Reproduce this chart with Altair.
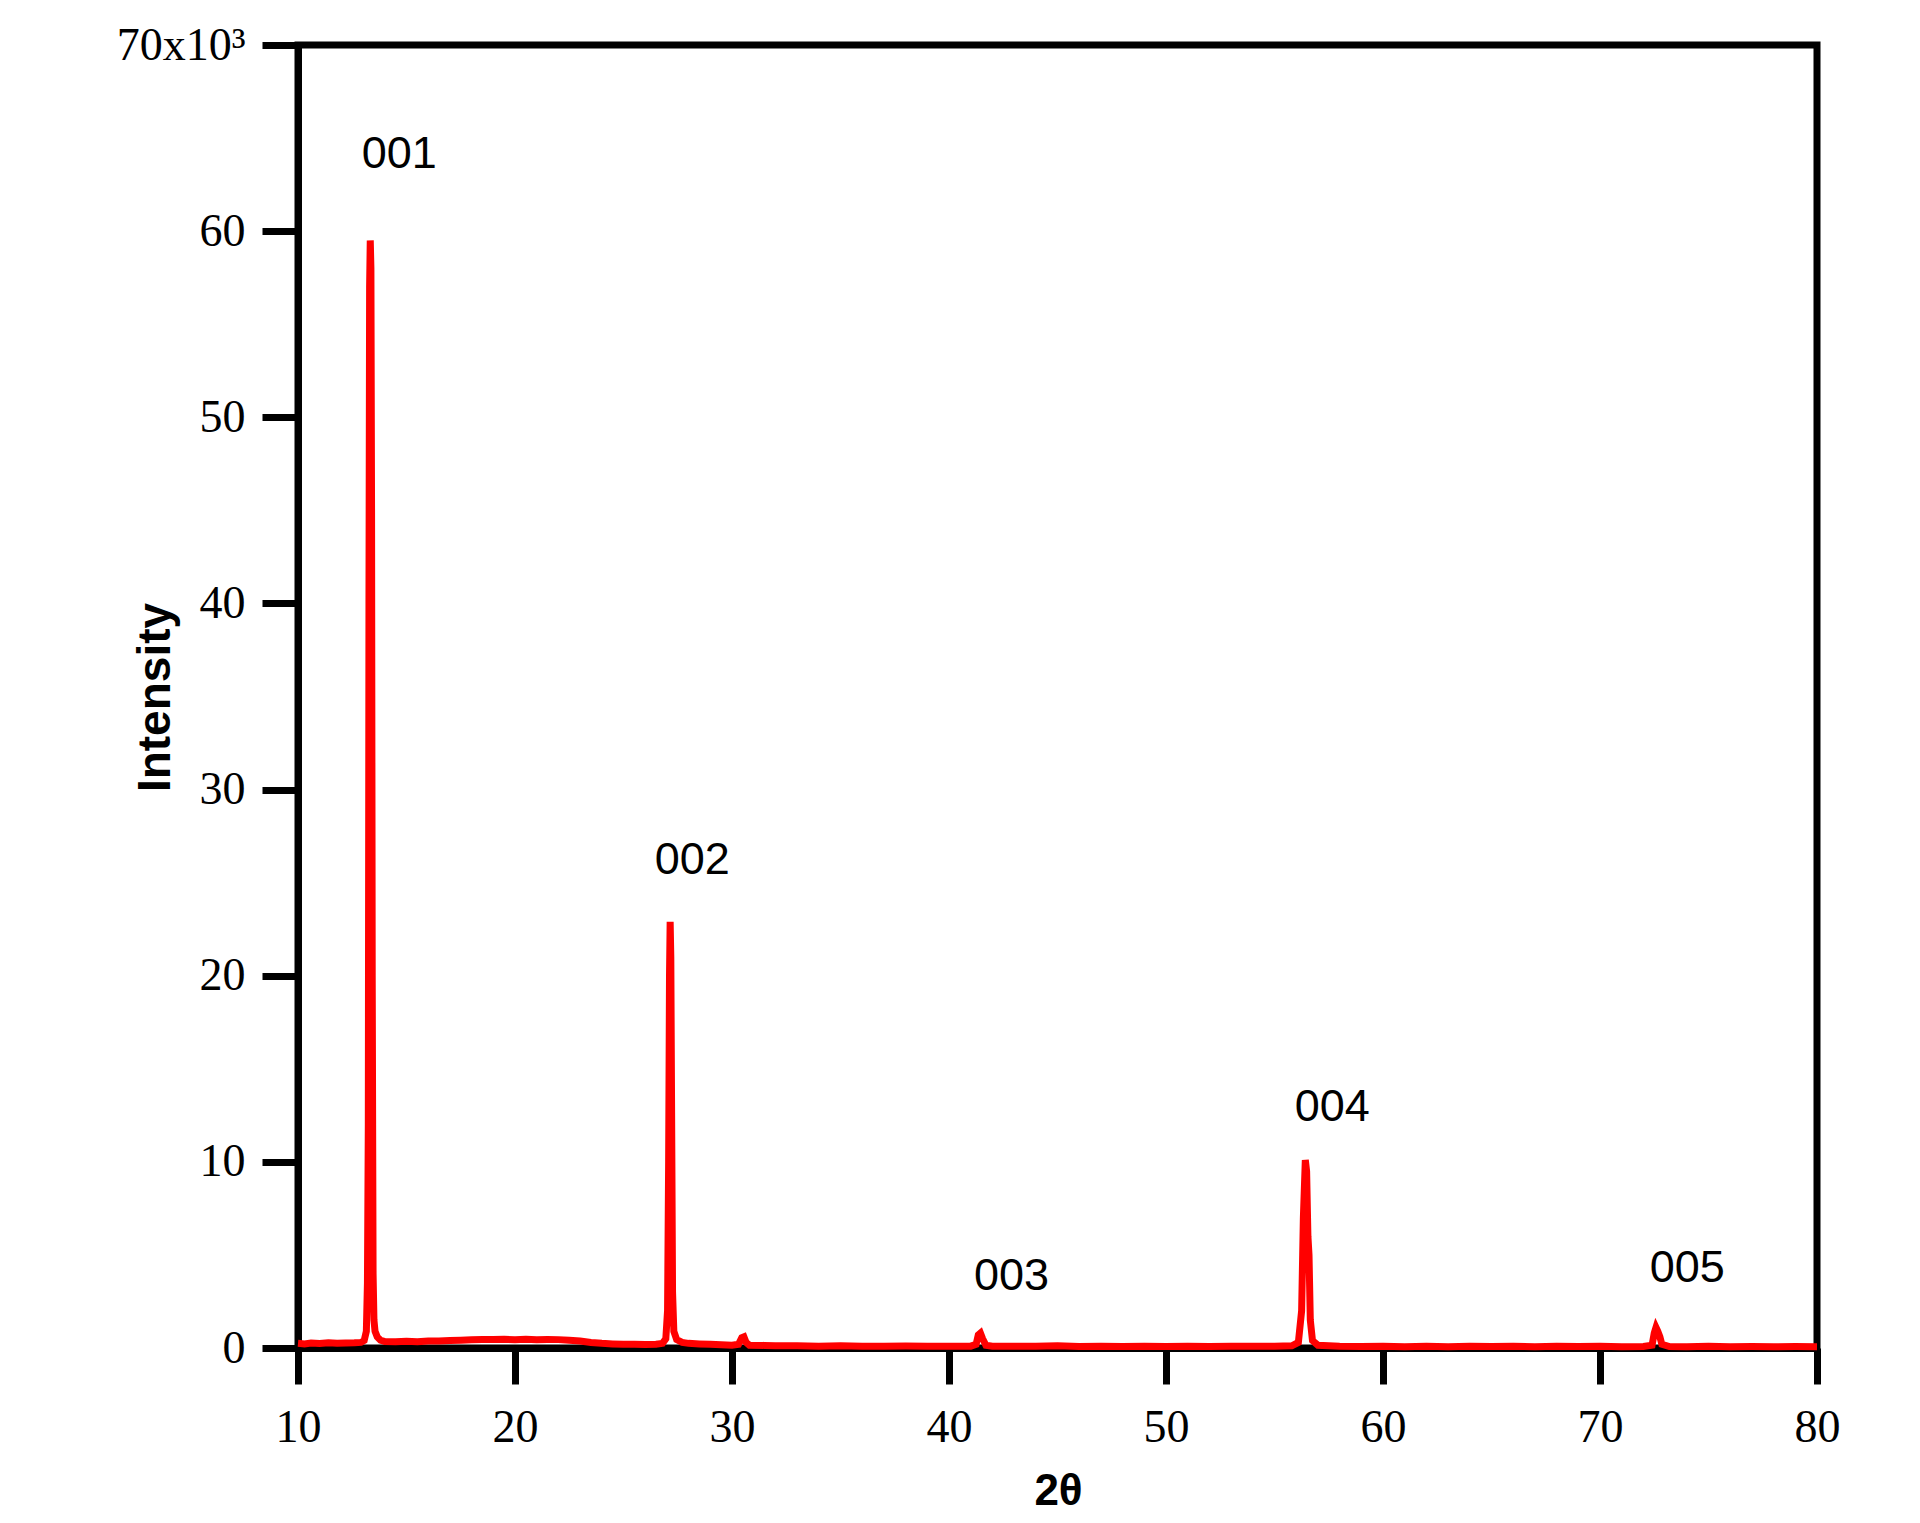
import altair as alt
import pandas as pd

# 2-theta positions (degrees)
two_theta = [10.0, 10.3, 10.6, 11.0, 11.4, 11.8, 12.2, 12.6, 12.9, 13.05, 13.15, 13.2, 13.24, 13.27, 13.3,
             13.33, 13.36, 13.39, 13.42, 13.46, 13.5, 13.55, 13.65, 13.8, 14.0, 14.5, 15.0, 15.5, 16.0, 16.5,
             17.0, 17.5, 18.0, 18.5, 19.0, 19.5, 20.0, 20.5, 21.0, 21.5, 22.0, 22.5, 23.0, 23.5, 24.0, 24.5,
             25.0, 25.5, 26.0, 26.5, 26.8, 26.95, 27.03, 27.08, 27.12, 27.15, 27.18, 27.22, 27.26, 27.32, 27.45,
             27.7, 28.0, 28.5, 29.0, 29.5, 30.0, 30.3, 30.45, 30.55, 30.65, 30.8, 31.5, 32.0, 33.0, 34.0, 35.0,
             36.0, 37.0, 38.0, 39.0, 40.0, 41.0, 41.25, 41.35, 41.45, 41.55, 41.7, 42.0, 43.0, 44.0, 45.0, 46.0,
             47.0, 48.0, 49.0, 50.0, 51.0, 52.0, 53.0, 54.0, 55.0, 55.8, 56.1, 56.25, 56.33, 56.42, 56.48, 56.54,
             56.59, 56.65, 56.75, 57.0, 58.0, 59.0, 60.0, 61.0, 62.0, 63.0, 64.0, 65.0, 66.0, 67.0, 68.0, 69.0,
             70.0, 71.0, 72.0, 72.4, 72.5, 72.58, 72.66, 72.76, 72.85, 73.2, 74.0, 75.0, 76.0, 77.0, 78.0, 79.0,
             80.0]

# intensity (counts)
intensity = [250, 220, 270, 240, 280, 250, 270, 280, 300, 400, 900, 3500, 12000, 40000, 57000,
             59500, 58000, 45000, 20000, 4000, 1500, 900, 600, 420, 350, 330, 360, 340, 380, 370,
             400, 420, 440, 450, 460, 470, 450, 470, 440, 460, 450, 420, 380, 300, 250, 220,
             200, 200, 190, 200, 250, 500, 2000, 10000, 20000, 22900, 21000, 12000, 3000, 900, 450,
             300, 250, 220, 200, 180, 150, 200, 550, 600, 300, 150, 140, 120, 120, 100, 120,
             100, 100, 110, 100, 90, 100, 200, 700, 800, 500, 150, 100, 100, 100, 120, 80,
             100, 80, 100, 80, 100, 80, 100, 90, 100, 120, 300, 2000, 7000, 10100, 9500, 6000,
             5000, 1500, 400, 150, 100, 80, 100, 70, 90, 70, 100, 80, 90, 70, 90, 80,
             90, 70, 80, 150, 800, 1100, 900, 600, 200, 80, 70, 90, 70, 80, 70, 80,
             70]

# peak annotations
peak_labels = ["001", "002", "003", "004", "005"]
peak_label_x = [14.67, 28.17, 42.88, 57.66, 74.02]
peak_label_y = [64300, 26400, 4030, 13100, 4460]

x_ticks = [10, 20, 30, 40, 50, 60, 70, 80]
y_ticks = [0, 10000, 20000, 30000, 40000, 50000, 60000, 70000]

df = pd.DataFrame({"x": two_theta, "y": intensity})
lab = pd.DataFrame({"x": peak_label_x, "y": peak_label_y, "t": peak_labels})

xscale = alt.Scale(domain=[10, 80], nice=False, zero=False)
yscale = alt.Scale(domain=[0, 70000], nice=False)

xaxis = alt.Axis(values=x_ticks, title="2θ", grid=False, tickSize=36, tickWidth=7, tickColor="black",
                 domainWidth=7, domainColor="black", labelFont="Liberation Serif", labelFontSize=46,
                 labelColor="black", labelPadding=21, labelFlush=False,
                 titleFont="Liberation Sans", titleFontSize=44, titleFontWeight="bold", titleColor="black",
                 titleX=760, titleY=143, titleBaseline="middle", titleAlign="center")
yaxis = alt.Axis(values=y_ticks, title="Intensity", grid=False, tickSize=36, tickWidth=7, tickColor="black",
                 domainWidth=7, domainColor="black", labelFont="Liberation Serif", labelFontSize=46,
                 labelColor="black", labelPadding=17, labelFlush=False,
                 labelExpr="datum.value == 70000 ? '70x10³' : format(datum.value / 1000, 'd')",
                 titleFont="Liberation Sans", titleFontSize=46, titleFontWeight="bold", titleColor="black",
                 titleX=-143, titleY=652, titleAngle=-90, titleBaseline="middle", titleAlign="center")

line = alt.Chart(df).mark_line(color="#ff0000", strokeWidth=7).encode(
    x=alt.X("x:Q", scale=xscale, axis=xaxis),
    y=alt.Y("y:Q", scale=yscale, axis=yaxis),
)

texts = alt.Chart(lab).mark_text(font="Liberation Sans", fontSize=45, dy=3,
                                 color="black", align="center", baseline="middle").encode(
    x=alt.X("x:Q", scale=xscale),
    y=alt.Y("y:Q", scale=yscale),
    text="t:N",
)

chart = alt.layer(line, texts).properties(
    width=1519, height=1303,
    autosize=alt.AutoSizeParams(type="none"),
    padding={"left": 290, "top": 37, "right": 95, "bottom": 167},
).configure(background="white").configure_view(stroke="black", strokeWidth=7)

chart.save("out.html", embed_options={"renderer": "svg", "actions": False})
